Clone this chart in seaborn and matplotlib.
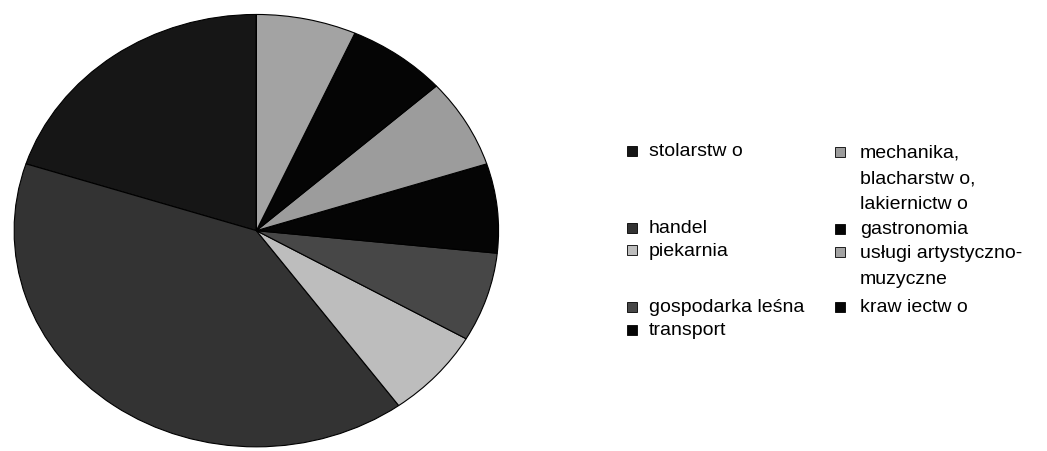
import matplotlib
matplotlib.use("Agg")
import matplotlib.pyplot as plt
from matplotlib.patches import Rectangle
import seaborn as sns

# data, in the order the pie is drawn (counter-clockwise from 12 o'clock)
labels = ["stolarstw o", "handel", "piekarnia", "gospodarka leśna", "transport",
          "mechanika,\nblacharstw o,\nlakiernictw o", "gastronomia",
          "usługi artystyczno-\nmuzyczne", "kraw iectw o"]
counts = [3, 6, 1, 1, 1, 1, 1, 1, 0]
colors = ["#161616", "#333333", "#bdbdbd", "#474747", "#050505",
          "#9c9c9c", "#050505", "#a3a3a3", "#050505"]

# legend layout: (marker x, text x, first line centre y) in pixels from top-left
W, H = 1047, 452
leg_pos = [(627, 649, 152), (627, 649, 229), (627, 649, 251), (627, 649, 308),
           (627, 649, 331), (835, 860, 153), (835, 860, 230), (835, 860, 253),
           (835, 860, 308)]
line_gap = 26

sns.set_theme(style="white")
plt.rcParams["font.family"] = ["Liberation Sans", "DejaVu Sans"]

fig = plt.figure(figsize=(W / 100, H / 100), dpi=100)
fig.patch.set_facecolor("white")
ax = fig.add_axes([11.7 / W, 2 / H, 489.3 / W, 436.7 / H])

ax.pie(counts, colors=colors, startangle=90, counterclock=True,
       wedgeprops=dict(edgecolor="black", linewidth=0.8))
ax.set_aspect("auto")
ax.set_xlim(-1.01, 1.01)
ax.set_ylim(-1.01, 1.01)
ax.axis("off")

for lab, col, (mx, tx, cy) in zip(labels, colors, leg_pos):
    fig.add_artist(Rectangle((mx / W, 1 - (cy + 5) / H), 10 / W, 10 / H,
                             transform=fig.transFigure, facecolor=col,
                             edgecolor="black", linewidth=0.6))
    for i, line in enumerate(lab.split("\n")):
        fig.text(tx / W, 1 - (cy + i * line_gap) / H, line, fontsize=14,
                 color="black", ha="left", va="center")

fig.savefig("out.png", dpi=100, facecolor="white")
